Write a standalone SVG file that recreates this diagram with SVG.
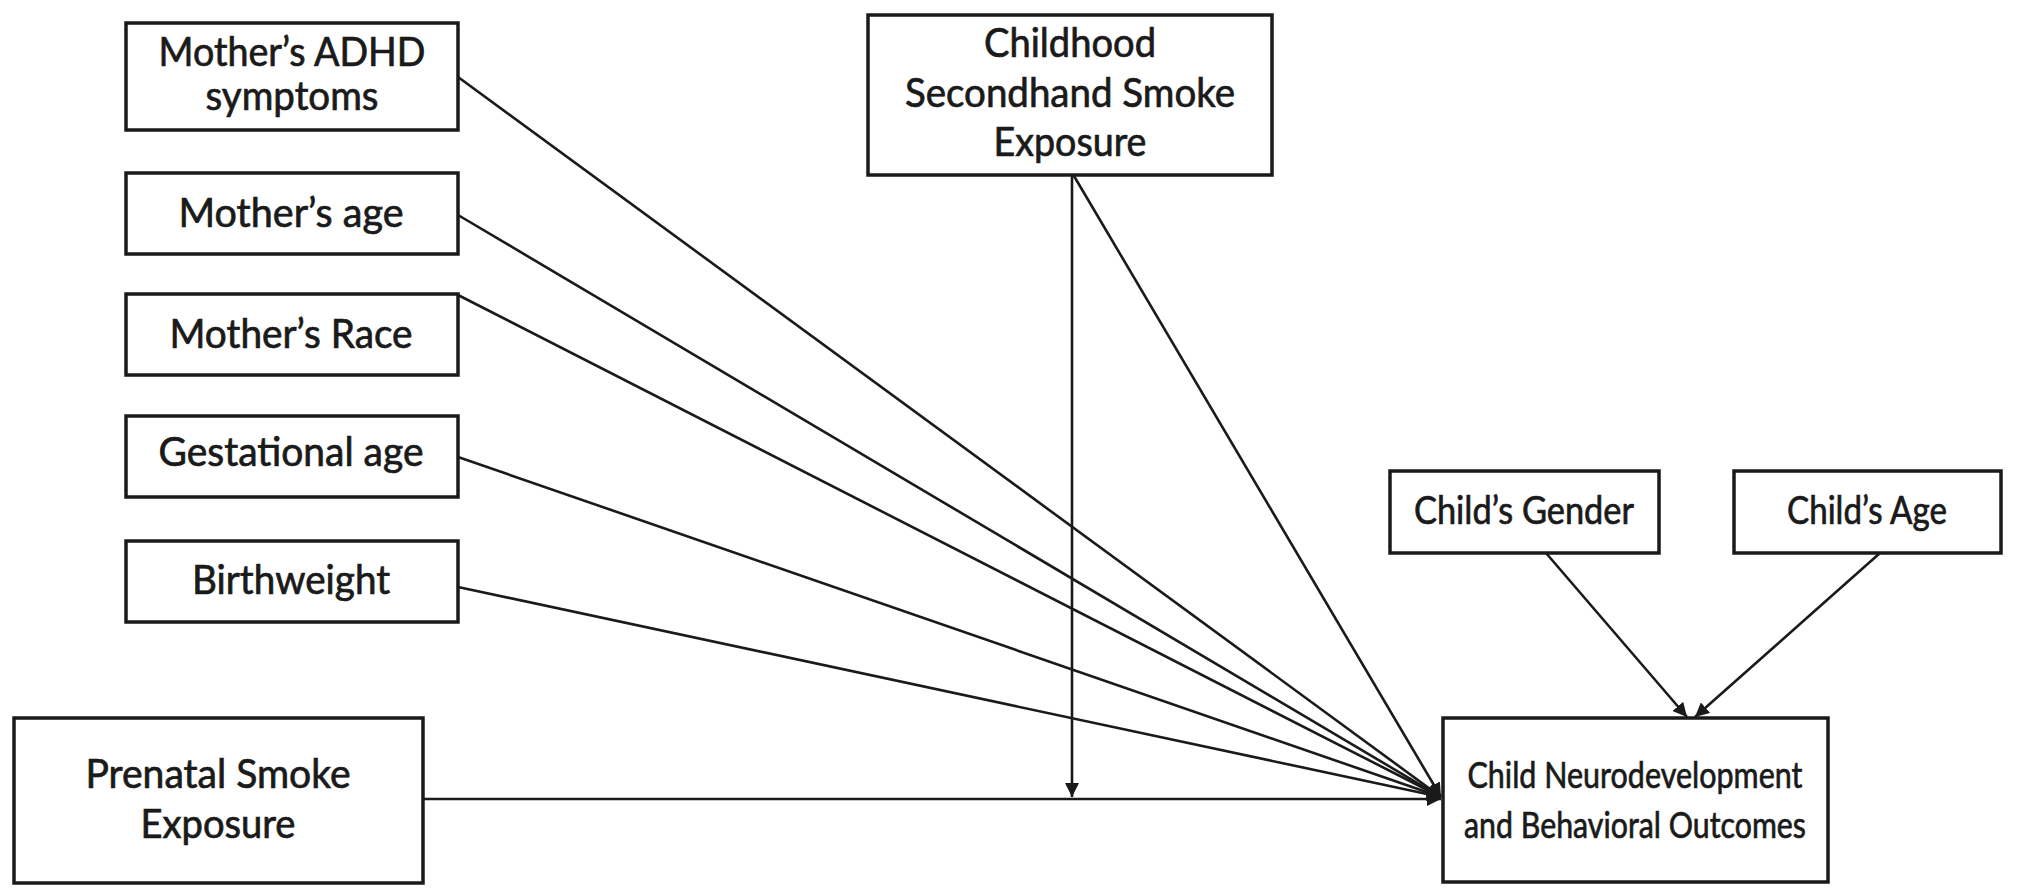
<svg xmlns="http://www.w3.org/2000/svg" width="2040" height="895" viewBox="0 0 2040 895">
<style>
.box{fill:#fff;stroke:#1a1a1a;stroke-width:3.5}
.t{font-family:Lato,"Liberation Sans",sans-serif;font-size:40px;fill:#1a1a1a;text-anchor:middle;stroke:#1a1a1a;stroke-width:0.7}
.s{font-size:38px}
.n{font-size:37px}
.c{fill:none;stroke:#1a1a1a;stroke-width:2.6}
</style>
<defs>
<marker id="ah" markerUnits="userSpaceOnUse" markerWidth="16" markerHeight="14" refX="14" refY="7" orient="auto">
<path d="M0,0 L14,7 L0,14 Z" fill="#1a1a1a"/>
</marker>
</defs>
<rect width="2040" height="895" fill="#fff"/>
<g id="connectors">
<line class="c" x1="458" y1="77" x2="1441" y2="797" marker-end="url(#ah)"/>
<line class="c" x1="458" y1="215" x2="1441" y2="797" marker-end="url(#ah)"/>
<line class="c" x1="458" y1="295" x2="1441" y2="797" marker-end="url(#ah)"/>
<line class="c" x1="458" y1="457" x2="1441" y2="797" marker-end="url(#ah)"/>
<line class="c" x1="458" y1="587" x2="1441" y2="797" marker-end="url(#ah)"/>
<line class="c" x1="1074" y1="176" x2="1441" y2="797" marker-end="url(#ah)"/>
<line class="c" x1="1072" y1="176" x2="1072" y2="797" marker-end="url(#ah)"/>
<line class="c" x1="423" y1="799" x2="1441" y2="799" marker-end="url(#ah)"/>
<line class="c" x1="1546" y1="553" x2="1687" y2="717" marker-end="url(#ah)"/>
<line class="c" x1="1880" y1="553" x2="1695" y2="717" marker-end="url(#ah)"/>
</g>
<g id="adhd"><rect class="box" x="126" y="23" width="332" height="107"/><text class="t" x="292" y="66" textLength="267" lengthAdjust="spacingAndGlyphs">Mother’s ADHD</text><text class="t" x="292" y="110" textLength="173" lengthAdjust="spacingAndGlyphs">symptoms</text></g>
<g id="mage"><rect class="box" x="126" y="173" width="332" height="81"/><text class="t" x="291" y="227" textLength="225" lengthAdjust="spacingAndGlyphs">Mother’s age</text></g>
<g id="race"><rect class="box" x="126" y="294" width="332" height="81"/><text class="t" x="291" y="348" textLength="243" lengthAdjust="spacingAndGlyphs">Mother’s Race</text></g>
<g id="gest"><rect class="box" x="126" y="416" width="332" height="81"/><text class="t" x="291" y="466" textLength="265" lengthAdjust="spacingAndGlyphs">Gestational age</text></g>
<g id="birth"><rect class="box" x="126" y="541" width="332" height="81"/><text class="t" x="291" y="594" textLength="198" lengthAdjust="spacingAndGlyphs">Birthweight</text></g>
<g id="prenatal"><rect class="box" x="14" y="718" width="409" height="165"/><text class="t" x="218" y="788" textLength="265" lengthAdjust="spacingAndGlyphs">Prenatal Smoke</text><text class="t" x="218" y="838" textLength="155" lengthAdjust="spacingAndGlyphs">Exposure</text></g>
<g id="childhood"><rect class="box" x="868" y="15" width="404" height="160"/><text class="t" x="1070" y="57" textLength="172" lengthAdjust="spacingAndGlyphs">Childhood</text><text class="t" x="1070" y="107" textLength="330" lengthAdjust="spacingAndGlyphs">Secondhand Smoke</text><text class="t" x="1070" y="156" textLength="153" lengthAdjust="spacingAndGlyphs">Exposure</text></g>
<g id="gender"><rect class="box" x="1390" y="471" width="269" height="82"/><text class="t s" x="1524" y="524" textLength="220" lengthAdjust="spacingAndGlyphs">Child’s Gender</text></g>
<g id="cage"><rect class="box" x="1734" y="471" width="267" height="82"/><text class="t s" x="1867" y="524" textLength="160" lengthAdjust="spacingAndGlyphs">Child’s Age</text></g>
<g id="outcome"><rect class="box" x="1443" y="718" width="385" height="164"/><text class="t n" x="1635" y="788" textLength="335" lengthAdjust="spacingAndGlyphs">Child Neurodevelopment</text><text class="t n" x="1635" y="838" textLength="342" lengthAdjust="spacingAndGlyphs">and Behavioral Outcomes</text></g>
</svg>
